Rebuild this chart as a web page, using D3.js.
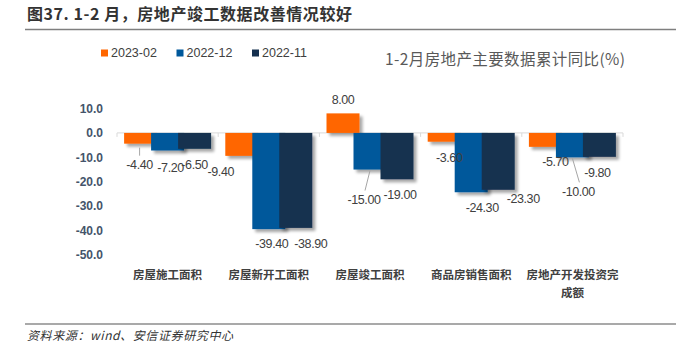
<!DOCTYPE html>
<html>
<head>
<meta charset="utf-8">
<script src="https://cdn.jsdelivr.net/npm/d3@7"></script>
<style>
  body { margin: 0; background: #fff; }
  svg { display: block; font-family: "Noto Sans CJK SC", "Liberation Sans", sans-serif; }
  .tick-label { font-family: "Liberation Sans Narrow", "Liberation Sans", sans-serif; font-weight: bold; font-size: 12px; fill: #44546a; }
  .val { font-family: "Liberation Sans Narrow", "Liberation Sans", sans-serif; font-size: 12.5px; fill: #404040; letter-spacing: -0.4px; }
</style>
</head>
<body>
<div class="svg-container"></div>
<script>
const categories = ["房屋施工面积", "房屋新开工面积", "房屋竣工面积", "商品房销售面积", ["房地产开发投资完", "成额"]];
const seriesNames = ["2023-02", "2022-12", "2022-11"];
const feb2023 = [-4.4, -9.4, 8.0, -3.6, -5.7];
const dec2022 = [-7.2, -39.4, -15.0, -24.3, -10.0];
const nov2022 = [-6.5, -38.9, -19.0, -23.3, -9.8];
const yTicks = [10, 0, -10, -20, -30, -40, -50];

// hand-placed label nudges (dx, dy from bar end), per series then category
const labelNudge = [
  [[-1, 21], [-21, 16], [0, -14], [5, 16], [10, 15]],
  [[3, 17], [3, 15], [-6, 30], [11, 15], [6, 34]],
  [[0, 16], [15, 16], [3, 15], [25, 9], [-2, 16]]
];
const leaders = {"0-0": true, "1-2": true, "1-4": true};

const width = 676, height = 348;
const colors = ["#ff6600", "#00589b", "#15304f"];
const series = [feb2023, dec2022, nov2022];

// excel style numbers: plain hyphen for negatives
const fmt1 = d => d3.format(".1f")(d).replace("−", "-");
const fmt2 = d => d3.format(".2f")(d).replace("−", "-");

const svg = d3.select(".svg-container").append("svg")
  .attr("width", width)
  .attr("height", height);

const defs = svg.append("defs");
const shadow = defs.append("filter").attr("id", "barShadow")
  .attr("x", "-20%").attr("y", "-20%").attr("width", "150%").attr("height", "150%");
shadow.append("feGaussianBlur").attr("in", "SourceAlpha").attr("stdDeviation", 1.5);
shadow.append("feOffset").attr("dx", 2.5).attr("dy", 2.5).attr("result", "off");
shadow.append("feComponentTransfer").append("feFuncA").attr("type", "linear").attr("slope", 0.35);
const merge = shadow.append("feMerge");
merge.append("feMergeNode");
merge.append("feMergeNode").attr("in", "SourceGraphic");

// header
svg.append("text")
  .attr("x", 27).attr("y", 20)
  .attr("font-size", 16).attr("font-weight", "bold").attr("fill", "#333")
  .attr("textLength", 325)
  .text("图37. 1-2 月，房地产竣工数据改善情况较好");
svg.append("line")
  .attr("x1", 25).attr("x2", width).attr("y1", 29.5).attr("y2", 29.5)
  .attr("stroke", "#7f7f7f").attr("stroke-width", 1.5);

// footer
svg.append("line")
  .attr("x1", 25).attr("x2", width).attr("y1", 324).attr("y2", 324)
  .attr("stroke", "#8c8c8c").attr("stroke-width", 1.5);
svg.append("text")
  .attr("x", 27).attr("y", 340)
  .attr("font-size", 12).attr("font-style", "italic").attr("fill", "#333")
  .attr("textLength", 206)
  .text("资料来源：wind、安信证券研究中心");

const x0 = d3.scaleBand().domain(d3.range(categories.length)).range([117, 623]);
const y = d3.scaleLinear().domain([-50, 10]).range([255, 108.5]);

const barW = 33, step = 27;
function barX(i, j) {
  return x0(i) + x0.bandwidth() / 2 - (barW + 2 * step) / 2 + step * j;
}

// y axis labels
svg.append("g").selectAll("text")
  .data(yTicks)
  .join("text")
  .attr("class", "tick-label")
  .attr("x", 103)
  .attr("y", d => y(d))
  .attr("dy", "0.35em")
  .attr("text-anchor", "end")
  .text(fmt1);

// zero line + category ticks
svg.append("line")
  .attr("x1", x0.range()[0]).attr("x2", x0.range()[1])
  .attr("y1", y(0)).attr("y2", y(0))
  .attr("stroke", "#d9d9d9");
svg.append("g").selectAll("line")
  .data(d3.range(categories.length + 1))
  .join("line")
  .attr("x1", d => x0.range()[0] + d * x0.step())
  .attr("x2", d => x0.range()[0] + d * x0.step())
  .attr("y1", y(0)).attr("y2", y(0) + 4)
  .attr("stroke", "#d9d9d9");

// bars, series drawn in order so later ones overlap
series.forEach(function(vals, j) {
  svg.append("g")
    .attr("filter", "url(#barShadow)")
    .selectAll("rect")
    .data(vals)
    .join("rect")
    .attr("x", (d, i) => barX(i, j))
    .attr("width", barW)
    .attr("y", d => Math.min(y(d), y(0)))
    .attr("height", d => Math.abs(y(d) - y(0)))
    .attr("fill", colors[j]);
});

// value labels
series.forEach(function(vals, j) {
  vals.forEach(function(v, i) {
    const cx = barX(i, j) + barW / 2;
    const ey = y(v);
    const n = labelNudge[j][i];
    if (leaders[j + "-" + i]) {
      svg.append("line")
        .attr("x1", cx - (j === 0 ? 1 : 0)).attr("y1", ey + (j === 0 ? 4 : 1))
        .attr("x2", cx + n[0] + (j === 0 ? 0 : 1)).attr("y2", ey + n[1] - 9)
        .attr("stroke", "#a6a6a6").attr("stroke-width", 1);
    }
    svg.append("text")
      .attr("class", "val")
      .attr("x", cx + n[0])
      .attr("y", ey + n[1])
      .attr("dy", "0.35em")
      .attr("text-anchor", "middle")
      .text(fmt2(v));
  });
});

// category labels
categories.forEach(function(c, i) {
  const lines = Array.isArray(c) ? c : [c];
  const t = svg.append("text")
    .attr("x", x0(i) + x0.bandwidth() / 2)
    .attr("y", 279)
    .attr("text-anchor", "middle")
    .attr("font-size", 11.5).attr("font-weight", "bold").attr("fill", "#404040");
  lines.forEach(function(l, k) {
    t.append("tspan")
      .attr("x", x0(i) + x0.bandwidth() / 2)
      .attr("dy", k === 0 ? 0 : 18)
      .text(l);
  });
});

// legend
const legend = svg.append("g").selectAll("g")
  .data(seriesNames)
  .join("g")
  .attr("transform", (d, j) => "translate(" + (101 + j * 75.5) + ",53)");
legend.append("rect")
  .attr("x", 0).attr("y", -3.5).attr("width", 7).attr("height", 7)
  .attr("fill", (d, j) => colors[j]);
legend.append("text")
  .attr("x", 10).attr("dy", "0.35em")
  .attr("font-family", "'Liberation Sans Narrow', 'Liberation Sans', sans-serif")
  .attr("font-size", 12.5).attr("fill", "#404040")
  .text(d => d);

// chart title
svg.append("text")
  .attr("x", 385).attr("y", 60)
  .attr("dy", "0.35em")
  .attr("font-size", 15.5).attr("fill", "#595959")
  .attr("textLength", 240)
  .text("1-2月房地产主要数据累计同比(%)");
</script>
</body>
</html>
